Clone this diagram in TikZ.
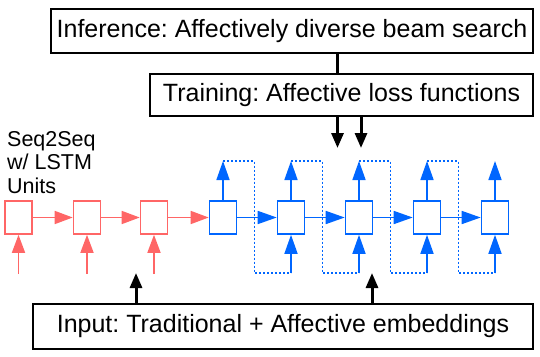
\documentclass[tikz,border=0pt]{standalone}
\usepackage{fontspec}
\setmainfont{Liberation Sans}
\usepackage{tikz}
\usetikzlibrary{arrows.meta, positioning, calc}
\frenchspacing

\definecolor{encred}{RGB}{255,102,102}
\definecolor{decblue}{RGB}{0,102,255}

\tikzset{
  banner/.style={draw, line width=1.3pt, inner sep=0pt,
                 font=\fontsize{25}{30}\selectfont},
  cellred/.style={draw=encred, line width=1.6pt, minimum width=27pt,
                  minimum height=33pt, inner sep=0pt},
  cellblue/.style={draw=decblue, line width=1.6pt, minimum width=27pt,
                   minimum height=33pt, inner sep=0pt},
  flowred/.style={encred, line width=1.6pt, -{Triangle[length=18pt, width=13pt]}},
  flowblue/.style={decblue, line width=1.6pt, -{Triangle[length=19pt, width=13pt]}},
  loopline/.style={decblue, line width=1.6pt, dash pattern=on 2pt off 2pt},
  heavy/.style={line width=3pt, -{Triangle[length=15pt, width=12pt]}}
}

\begin{document}
\begin{tikzpicture}[x=1pt, y=-1pt]
  \useasboundingbox (0,0) rectangle (540,356);

  % Stages
  \node[banner, minimum width=482pt, minimum height=44pt] (infer) at (292,31)
    {Inference: Affectively diverse beam search};
  \node[banner, minimum width=383pt, minimum height=42pt] (train) at (341.5,95)
    {Training: Affective loss functions};
  \node[banner, minimum width=500pt, minimum height=45pt] (input) at (283,326.5)
    {Input: Traditional + Affective embeddings};
  \draw[line width=3pt] ([xshift=-4.5pt]train.north) -- ([xshift=-4.5pt]train.north |- infer.south);

  \node[anchor=north west, align=left, inner sep=0pt,
        font=\fontsize{21.5}{23.5}\selectfont] (label) at (7,131)
    {Seq2Seq\\w/ LSTM\\Units};

  % Encoder
  \node[cellred] (r1) at (18.5,217.5) {};
  \node[cellred] (r2) at (87,217.5) {};
  \node[cellred] (r3) at (154,217.5) {};
  \coordinate (x1) at (18.5,274);
  \coordinate (x2) at (87,274);
  \coordinate (x3) at (154,274);
  \draw[flowred] (x1) -- (r1.south);
  \draw[flowred] (x2) -- (r2.south);
  \draw[flowred] (x3) -- (r3.south);

  % Decoder
  \node[cellblue] (b1) at (223,217.5) {};
  \node[cellblue] (b2) at (291,217.5) {};
  \node[cellblue] (b3) at (359,217.5) {};
  \node[cellblue] (b4) at (427,217.5) {};
  \node[cellblue] (b5) at (495,217.5) {};

  \draw[flowred] (r1.east) -- (r2.west);
  \draw[flowred] (r2.east) -- (r3.west);
  \draw[flowred] (r3.east) -- (b1.west);
  \draw[flowblue] (b1.east) -- (b2.west);
  \draw[flowblue] (b2.east) -- (b3.west);
  \draw[flowblue] (b3.east) -- (b4.west);
  \draw[flowblue] (b4.east) -- (b5.west);

  % Outputs fed back as next inputs
  \coordinate (o1) at (223,161);
  \coordinate (o2) at (291,161);
  \coordinate (o3) at (359,161);
  \coordinate (o4) at (427,161);
  \coordinate (o5) at (495,161);
  \coordinate (i2) at (291,273);
  \coordinate (i3) at (359,273);
  \coordinate (i4) at (427,273);
  \coordinate (i5) at (495,273);
  \draw[flowblue] (b1.north) -- (o1);
  \draw[flowblue] (b2.north) -- (o2);
  \draw[flowblue] (b3.north) -- (o3);
  \draw[flowblue] (b4.north) -- (o4);
  \draw[flowblue] (b5.north) -- (o5);
  \draw[loopline] (o1) -- ++(31.5,0) |- (i2);
  \draw[loopline] (o2) -- ++(31.5,0) |- (i3);
  \draw[loopline] (o3) -- ++(31.5,0) |- (i4);
  \draw[loopline] (o4) -- ++(31.5,0) |- (i5);
  \draw[flowblue] (i2) -- (b2.south);
  \draw[flowblue] (i3) -- (b3.south);
  \draw[flowblue] (i4) -- (b4.south);
  \draw[flowblue] (i5) -- (b5.south);

  % Stage connections
  \coordinate (t1) at (337.5,148);
  \coordinate (t2) at (361,148);
  \coordinate (e1) at (136,273);
  \coordinate (e2) at (372,273);
  \draw[heavy] (train.south -| t1) -- (t1);
  \draw[heavy] (train.south -| t2) -- (t2);
  \draw[heavy] (input.north -| e1) -- (e1);
  \draw[heavy] (input.north -| e2) -- (e2);
\end{tikzpicture}
\end{document}
